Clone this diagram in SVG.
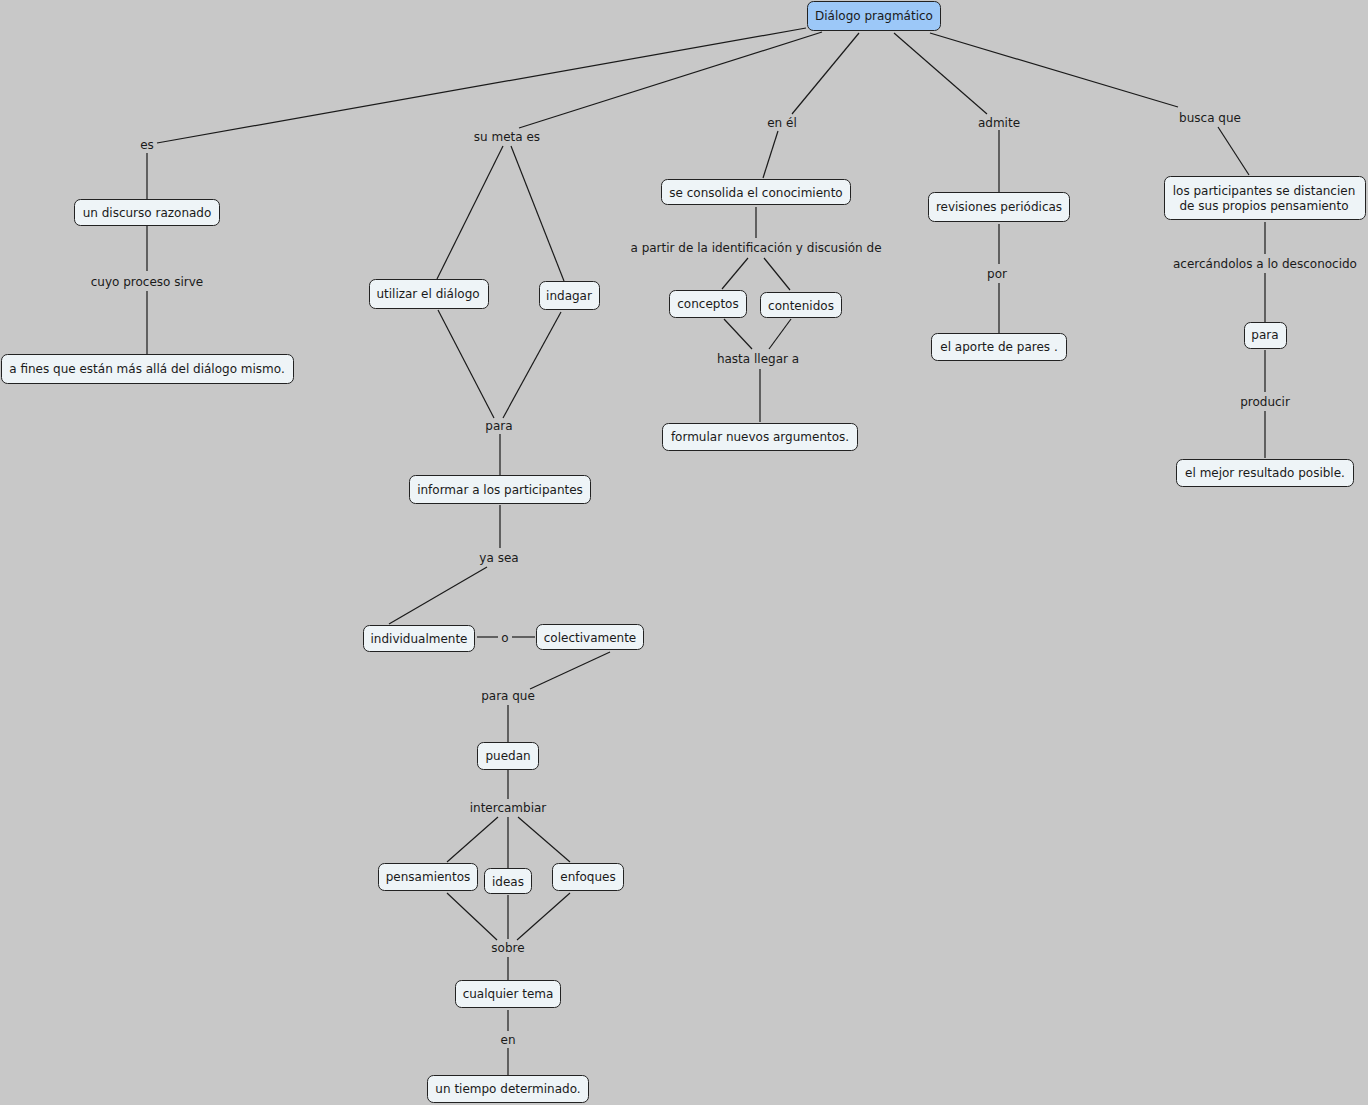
<svg xmlns="http://www.w3.org/2000/svg" width="1368" height="1105" viewBox="0 0 1368 1105">
<style>
.bg{fill:#c8c8c8}
.n rect{fill:#eef4f7;stroke:#222;stroke-width:1}
.n.root rect{fill:#9cc8f8}
text{font-family:"DejaVu Sans",Verdana,sans-serif;font-size:12px;fill:#1a1a1a;text-anchor:middle;dominant-baseline:central;transform:translateY(1px)}
#connectors line{stroke:#1a1a1a;stroke-width:1.2}
</style>
<rect class="bg" x="0" y="0" width="1368" height="1105"/>
<g id="connectors">
<line x1="806" y1="28" x2="157" y2="143"/>
<line x1="147" y1="153" x2="147" y2="199"/>
<line x1="822" y1="32" x2="519" y2="128"/>
<line x1="503" y1="146" x2="437" y2="279"/>
<line x1="511" y1="146" x2="564" y2="281"/>
<line x1="859" y1="33" x2="792" y2="114"/>
<line x1="778" y1="131" x2="763" y2="178"/>
<line x1="894" y1="33" x2="987" y2="114"/>
<line x1="999" y1="130" x2="999" y2="192"/>
<line x1="930" y1="33" x2="1178" y2="107"/>
<line x1="1218" y1="127" x2="1249" y2="175"/>
<line x1="147" y1="226" x2="147" y2="271"/>
<line x1="147" y1="291" x2="147" y2="354"/>
<line x1="438" y1="310" x2="494" y2="418"/>
<line x1="561" y1="312" x2="503" y2="418"/>
<line x1="500" y1="434" x2="500" y2="475"/>
<line x1="500" y1="505" x2="500" y2="548"/>
<line x1="487" y1="567" x2="389" y2="624"/>
<line x1="477" y1="637" x2="498" y2="637"/>
<line x1="512" y1="637" x2="535" y2="637"/>
<line x1="610" y1="652" x2="530" y2="689"/>
<line x1="508" y1="705" x2="508" y2="742"/>
<line x1="508" y1="770" x2="508" y2="799"/>
<line x1="498" y1="817" x2="447" y2="862"/>
<line x1="508" y1="817" x2="508" y2="868"/>
<line x1="518" y1="817" x2="570" y2="862"/>
<line x1="447" y1="893" x2="497" y2="940"/>
<line x1="508" y1="895" x2="508" y2="939"/>
<line x1="570" y1="893" x2="517" y2="940"/>
<line x1="508" y1="957" x2="508" y2="980"/>
<line x1="508" y1="1010" x2="508" y2="1031"/>
<line x1="508" y1="1048" x2="508" y2="1075"/>
<line x1="756" y1="207" x2="756" y2="238"/>
<line x1="748" y1="258" x2="722" y2="289"/>
<line x1="764" y1="258" x2="790" y2="290"/>
<line x1="724" y1="319" x2="752" y2="349"/>
<line x1="791" y1="319" x2="769" y2="349"/>
<line x1="760" y1="369" x2="760" y2="422"/>
<line x1="999" y1="224" x2="999" y2="264"/>
<line x1="999" y1="283" x2="999" y2="333"/>
<line x1="1265" y1="222" x2="1265" y2="254"/>
<line x1="1265" y1="273" x2="1265" y2="322"/>
<line x1="1265" y1="350" x2="1265" y2="392"/>
<line x1="1265" y1="411" x2="1265" y2="458"/>
</g>
<g id="labels">
<text x="147" y="144">es</text>
<text x="507" y="136">su meta es</text>
<text x="782" y="122">en él</text>
<text x="999" y="122">admite</text>
<text x="1210" y="117">busca que</text>
<text x="147" y="281">cuyo proceso sirve</text>
<text x="756" y="247">a partir de la identificación y discusión de</text>
<text x="758" y="358">hasta llegar a</text>
<text x="997" y="273">por</text>
<text x="1265" y="263">acercándolos a lo desconocido</text>
<text x="1265" y="401">producir</text>
<text x="499" y="425">para</text>
<text x="499" y="557">ya sea</text>
<text x="505" y="637">o</text>
<text x="508" y="695">para que</text>
<text x="508" y="807">intercambiar</text>
<text x="508" y="947">sobre</text>
<text x="508" y="1039">en</text>
</g>
<g id="n-root" class="n root"><rect x="807.5" y="1.5" width="133" height="29" rx="6"/><text x="874" y="15">Diálogo pragmático</text></g>
<g id="n-discurso" class="n"><rect x="74.5" y="199.5" width="145" height="26" rx="6"/><text x="147" y="212">un discurso razonado</text></g>
<g id="n-fines" class="n"><rect x="1.5" y="354.5" width="292" height="29" rx="6"/><text x="147" y="368">a fines que están más allá del diálogo mismo.</text></g>
<g id="n-utilizar" class="n"><rect x="369.5" y="279.5" width="119" height="29" rx="6"/><text x="428" y="293">utilizar el diálogo</text></g>
<g id="n-indagar" class="n"><rect x="539.5" y="281.5" width="60" height="28" rx="6"/><text x="569" y="295">indagar</text></g>
<g id="n-informar" class="n"><rect x="409.5" y="475.5" width="181" height="28" rx="6"/><text x="500" y="489">informar a los participantes</text></g>
<g id="n-individual" class="n"><rect x="363.5" y="625.5" width="111" height="26" rx="6"/><text x="419" y="638">individualmente</text></g>
<g id="n-colectiva" class="n"><rect x="536.5" y="624.5" width="107" height="25" rx="6"/><text x="590" y="637">colectivamente</text></g>
<g id="n-puedan" class="n"><rect x="477.5" y="742.5" width="61" height="27" rx="6"/><text x="508" y="755">puedan</text></g>
<g id="n-pensamientos" class="n"><rect x="378.5" y="863.5" width="99" height="27" rx="6"/><text x="428" y="876">pensamientos</text></g>
<g id="n-ideas" class="n"><rect x="484.5" y="868.5" width="47" height="25" rx="6"/><text x="508" y="881">ideas</text></g>
<g id="n-enfoques" class="n"><rect x="552.5" y="863.5" width="71" height="27" rx="6"/><text x="588" y="876">enfoques</text></g>
<g id="n-tema" class="n"><rect x="455.5" y="980.5" width="105" height="27" rx="6"/><text x="508" y="993">cualquier tema</text></g>
<g id="n-tiempo" class="n"><rect x="427.5" y="1075.5" width="161" height="27" rx="6"/><text x="508" y="1088">un tiempo determinado.</text></g>
<g id="n-consolida" class="n"><rect x="661.5" y="179.5" width="189" height="25" rx="6"/><text x="756" y="192">se consolida el conocimiento</text></g>
<g id="n-conceptos" class="n"><rect x="669.5" y="290.5" width="77" height="27" rx="6"/><text x="708" y="303">conceptos</text></g>
<g id="n-contenidos" class="n"><rect x="760.5" y="292.5" width="81" height="25" rx="6"/><text x="801" y="305">contenidos</text></g>
<g id="n-formular" class="n"><rect x="662.5" y="423.5" width="195" height="27" rx="6"/><text x="760" y="436">formular nuevos argumentos.</text></g>
<g id="n-revisiones" class="n"><rect x="928.5" y="192.5" width="141" height="29" rx="6"/><text x="999" y="206">revisiones periódicas</text></g>
<g id="n-aporte" class="n"><rect x="931.5" y="333.5" width="135" height="27" rx="6"/><text x="999" y="346">el aporte de pares .</text></g>
<g id="n-distancien" class="n"><rect x="1164.5" y="176.5" width="201" height="43" rx="6"/><text x="1264" y="190">los participantes se distancien</text><text x="1264" y="205">de sus propios pensamiento</text></g>
<g id="n-para" class="n"><rect x="1244.5" y="322.5" width="42" height="26" rx="6"/><text x="1265" y="334">para</text></g>
<g id="n-mejor" class="n"><rect x="1176.5" y="459.5" width="177" height="27" rx="6"/><text x="1265" y="472">el mejor resultado posible.</text></g>
</svg>
